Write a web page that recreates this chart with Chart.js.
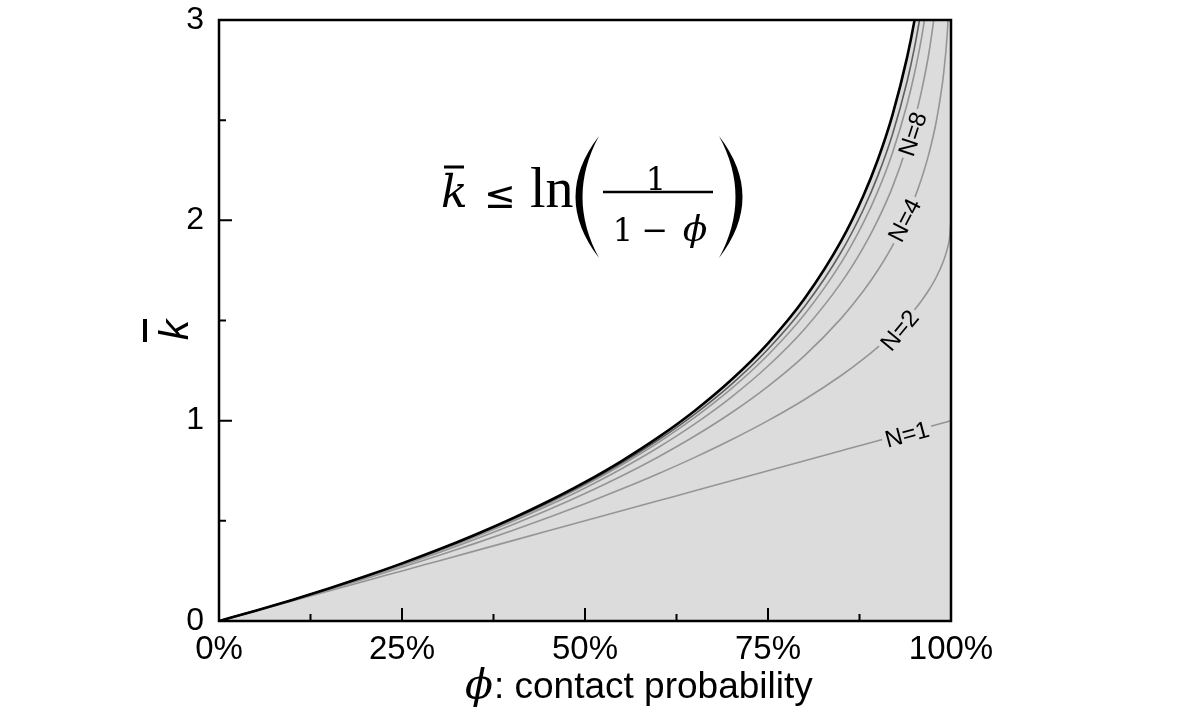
<!DOCTYPE html>
<html>
<head>
<meta charset="utf-8">
<script src="https://cdn.jsdelivr.net/npm/chart.js@4.4.0/dist/chart.umd.min.js"></script>
<style>
  html, body { margin: 0; padding: 0; background: #fff; }
  canvas { display: block; }
</style>
</head>
<body>
<canvas id="chart" width="1200" height="714"></canvas>
<script>
// contact probability (%) where the curves were read
const phi = [0, 5, 10, 15, 20, 25, 30, 35, 40, 45, 50, 55, 60, 65, 70, 75, 80, 85, 88, 90, 92, 94, 95, 96, 97, 98, 99, 99.5, 99.8, 100];

// upper bound ln(1/(1-phi)), black (past 96% it is above the frame)
const kMax = [0, 0.0513, 0.1054, 0.1625, 0.2231, 0.2877, 0.3567, 0.4308, 0.5108, 0.5978, 0.6931, 0.7985, 0.9163, 1.0498, 1.2040, 1.3863, 1.6094, 1.8971, 2.1203, 2.3026, 2.5257, 2.8134, 2.9957, 3.2189, 3.5066, 3.9120, 4.6052, 5.2983, 6.2146, 7.0];
// gray curves for N
const kN32 = [0, 0.0512, 0.1050, 0.1622, 0.2224, 0.2864, 0.3546, 0.4278, 0.5069, 0.5923, 0.6854, 0.7885, 0.9034, 1.0330, 1.1814, 1.3565, 1.5696, 1.8419, 2.0515, 2.2218, 2.4288, 2.6931, 2.8595, 3.0621];
const kN16 = [0, 0.0512, 0.1049, 0.1617, 0.2216, 0.2851, 0.3528, 0.4251, 0.5027, 0.5869, 0.6782, 0.7789, 0.8906, 1.0162, 1.1597, 1.3278, 1.5310, 1.7890, 1.9858, 2.1446, 2.3365, 2.5798, 2.7318, 2.9157, 3.1490];
const kN8 = [0, 0.0511, 0.1046, 0.1609, 0.2201, 0.2826, 0.3489, 0.4194, 0.4949, 0.5761, 0.6639, 0.7599, 0.8658, 0.9838, 1.1177, 1.2728, 1.4578, 1.6890, 1.8626, 2.0009, 2.1658, 2.3719, 2.4987, 2.6501, 2.8390, 3.0941];
const kN4 = [0, 0.0510, 0.1040, 0.1593, 0.2170, 0.2776, 0.3412, 0.4084, 0.4796, 0.5553, 0.6364, 0.7238, 0.8189, 0.9234, 1.0396, 1.1716, 1.3250, 1.5107, 1.6457, 1.7506, 1.8727, 2.0203, 2.1085, 2.2111, 2.3353, 2.4958, 2.7351, 2.9364, 3.154];
const kN2 = [0, 0.0506, 0.1026, 0.1561, 0.2111, 0.2679, 0.3267, 0.3875, 0.4508, 0.5168, 0.5858, 0.6584, 0.7351, 0.8168, 0.9046, 1.0, 1.1056, 1.2254, 1.3072, 1.3675, 1.4343, 1.5101, 1.5528, 1.6, 1.6536, 1.7172, 1.8, 1.8586, 1.9106, 2.0];
const kN1 = [0, 0.05, 0.10, 0.15, 0.20, 0.25, 0.30, 0.35, 0.40, 0.45, 0.50, 0.55, 0.60, 0.65, 0.70, 0.75, 0.80, 0.85, 0.88, 0.90, 0.92, 0.94, 0.95, 0.96, 0.97, 0.98, 0.99, 0.995, 0.998, 1.0];

// curve labels: text, phi (%), k where the label sits, angle (deg)
const etiquetas = ["N=1", "N=2", "N=4", "N=8"];
const etiqPhi = [94, 93, 93.7, 94.8];
const etiqK = [0.93, 1.45, 2.0, 2.43];
const etiqAng = [15, 50, 63, 72];

// ticks
const xMajor = [0, 25, 50, 75, 100];
const xMinor = [12.5, 37.5, 62.5, 87.5];
const yMajor = [0, 1, 2, 3];
const yMinor = [0.5, 1.5, 2.5];

const GRIS = "#959595";
const RELLENO = "#dcdcdc";

function puntos(ys) {
  return ys.map((y, i) => ({ x: phi[i], y: y }));
}

function serie(ys, color, ancho, extra) {
  return Object.assign({
    data: puntos(ys),
    borderColor: color,
    borderWidth: ancho,
    pointRadius: 0,
    cubicInterpolationMode: 'monotone',
    fill: false,
    clip: 0
  }, extra || {});
}

// --- ticks hacia dentro, marco, etiquetas y formula
const decoracion = {
  id: 'decoracion',
  afterDatasetsDraw(chart) {
    const c = chart.ctx;
    const xs = chart.scales.x, ys = chart.scales.y;
    // etiquetas de curvas con hueco en la linea
    c.save();
    c.font = '24px "Liberation Sans"';
    c.textAlign = 'center';
    c.textBaseline = 'middle';
    etiquetas.forEach((t, i) => {
      const px = xs.getPixelForValue(etiqPhi[i]);
      const py = ys.getPixelForValue(etiqK[i]);
      const w = c.measureText(t).width;
      c.save();
      c.translate(px, py);
      c.rotate(-etiqAng[i] * Math.PI / 180);
      c.fillStyle = RELLENO;
      c.fillRect(-w / 2 - 3, -11, w + 6, 22);
      c.fillStyle = '#000';
      c.fillText(t, 0, 1);
      c.restore();
    });
    c.restore();
  },
  afterDraw(chart) {
    const c = chart.ctx;
    const a = chart.chartArea;
    const xs = chart.scales.x, ys = chart.scales.y;
    c.save();
    c.strokeStyle = '#000';
    c.lineWidth = 2;
    c.beginPath();
    yMajor.forEach(v => { const p = ys.getPixelForValue(v); c.moveTo(a.left, p); c.lineTo(a.left + 13, p); });
    yMinor.forEach(v => { const p = ys.getPixelForValue(v); c.moveTo(a.left, p); c.lineTo(a.left + 7, p); });
    xMajor.forEach(v => { const p = xs.getPixelForValue(v); c.moveTo(p, a.bottom); c.lineTo(p, a.bottom - 13); });
    xMinor.forEach(v => { const p = xs.getPixelForValue(v); c.moveTo(p, a.bottom); c.lineTo(p, a.bottom - 7); });
    c.stroke();
    c.lineWidth = 2.5;
    c.strokeRect(a.left, a.top, a.right - a.left, a.bottom - a.top);

    c.fillStyle = '#000';
    c.textAlign = 'left';
    c.textBaseline = 'alphabetic';

    // titulo eje x
    c.font = 'italic 41px "DejaVu Serif"';
    c.fillText('\u03d5', 465, 698);
    const wPhi = c.measureText('\u03d5').width;
    c.font = '37px "Liberation Sans"';
    c.fillText(': contact probability', 465 + wPhi + 1, 698);

    // titulo eje y (k barra, girado)
    c.save();
    c.translate(188, 330);
    c.rotate(-Math.PI / 2);
    c.font = 'italic 41px "Liberation Sans"';
    c.textAlign = 'center';
    c.fillText('k', 0, 0);
    c.lineWidth = 4;
    c.beginPath();
    c.moveTo(-12, -43);
    c.lineTo(11, -43);
    c.stroke();
    c.restore();

    // formula
    c.font = 'italic 44px "DejaVu Serif"';
    c.fillText('k', 441, 207);
    c.lineWidth = 3;
    c.beginPath(); c.moveTo(444, 167); c.lineTo(464, 167); c.stroke();
    c.font = '38px "DejaVu Sans"';
    c.fillText('\u2264', 484, 208);
    c.font = '56px "Liberation Serif"';
    c.fillText('ln', 530, 207);
    // parentesis
    c.beginPath();
    c.moveTo(599, 136);
    c.quadraticCurveTo(552, 197, 599, 258);
    c.quadraticCurveTo(566, 197, 599, 136);
    c.fill();
    c.beginPath();
    c.moveTo(719, 136);
    c.quadraticCurveTo(766, 197, 719, 258);
    c.quadraticCurveTo(752, 197, 719, 136);
    c.fill();
    // fraccion
    c.lineWidth = 2.5;
    c.beginPath(); c.moveTo(603, 192); c.lineTo(713, 192); c.stroke();
    c.textAlign = 'center';
    c.font = '32px "DejaVu Serif"';
    c.fillText('1', 656, 190);
    c.fillText('1', 623, 241);
    c.fillText('\u2212', 655, 241);
    c.font = 'italic 36px "DejaVu Serif"';
    c.fillText('\u03d5', 695, 241);
    c.restore();
  }
};

new Chart(document.getElementById('chart'), {
  type: 'line',
  data: {
    datasets: [
      serie(kMax, '#000', 2.6, { fill: 'origin', backgroundColor: RELLENO }),
      serie(kN32, '#5f5f5f', 1.6),
      serie(kN16, GRIS, 1.6),
      serie(kN8, GRIS, 1.6),
      serie(kN4, GRIS, 1.6),
      serie(kN2, GRIS, 1.6),
      serie(kN1, GRIS, 1.6)
    ]
  },
  options: {
    responsive: false,
    animation: false,
    layout: { padding: { left: 0, top: 20, right: 249, bottom: 0 } },
    plugins: {
      legend: { display: false },
      tooltip: { enabled: false },
      filler: { drawTime: 'beforeDatasetsDraw' }
    },
    scales: {
      x: {
        type: 'linear',
        min: 0,
        max: 100,
        grid: { display: false, drawTicks: false },
        border: { display: false },
        ticks: {
          stepSize: 25,
          padding: 9,
          color: '#000',
          font: { family: 'Liberation Sans', size: 33 },
          callback: v => v + '%'
        },
        afterFit: s => { s.height = 93; s.paddingLeft = 0; s.paddingRight = 0; }
      },
      y: {
        min: 0,
        max: 3,
        grid: { display: false, drawTicks: false },
        border: { display: false },
        ticks: {
          stepSize: 1,
          padding: 15,
          color: '#000',
          font: { family: 'Liberation Sans', size: 32 }
        },
        afterFit: s => { s.width = 219; s.paddingTop = 0; s.paddingBottom = 0; }
      }
    }
  },
  plugins: [decoracion]
});
</script>
</body>
</html>
